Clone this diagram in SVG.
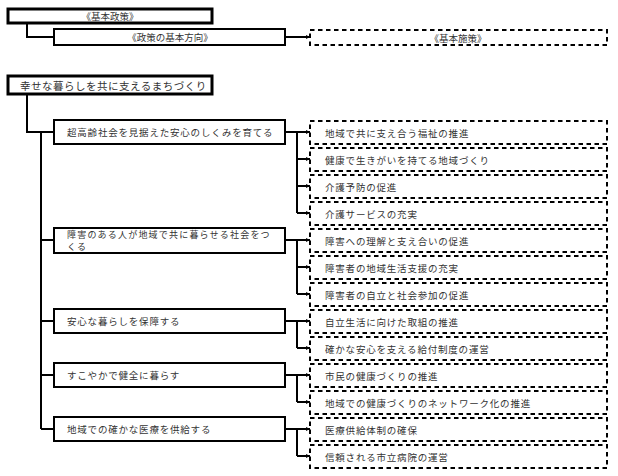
<svg xmlns="http://www.w3.org/2000/svg" width="618" height="476" viewBox="0 0 618 476">
<style>
text{font-family:"Noto Sans CJK JP","Noto Sans",sans-serif;fill:#333;font-size:9.5px;letter-spacing:0.8px;dominant-baseline:central}
.thick{fill:#fff;stroke:#000;stroke-width:3}
.box{fill:#fff;stroke:#000;stroke-width:2}
.dash{fill:#fff;stroke:#000;stroke-width:2;stroke-dasharray:4.5 3.5}
.con{fill:none;stroke:#000;stroke-width:2}
.c{text-anchor:middle;letter-spacing:0}
</style>
<defs>
<marker id="ar" markerUnits="userSpaceOnUse" markerWidth="5" markerHeight="5" refX="4" refY="2.5" orient="auto">
<path d="M0,0.5 L4,2.5 L0,4.5 z" fill="#000"/>
</marker>
</defs>
<g id="connectors" class="con">
<path d="M27,23 V37 H54"/>
<path d="M285,37 H310" marker-end="url(#ar)"/>
<path d="M27,94 V132 H54"/>
<path d="M41,132 V429 M41,240 H54 M41,321 H54 M41,375 H54 M41,429 H54"/>
<path d="M285,132 H297 V213"/>
<path d="M297,132 H310" marker-end="url(#ar)"/>
<path d="M297,159 H310" marker-end="url(#ar)"/>
<path d="M297,186 H310" marker-end="url(#ar)"/>
<path d="M297,213 H310" marker-end="url(#ar)"/>
<path d="M285,240 H297 V294"/>
<path d="M297,240 H310" marker-end="url(#ar)"/>
<path d="M297,267 H310" marker-end="url(#ar)"/>
<path d="M297,294 H310" marker-end="url(#ar)"/>
<path d="M285,321 H297 V348"/>
<path d="M297,321 H310" marker-end="url(#ar)"/>
<path d="M297,348 H310" marker-end="url(#ar)"/>
<path d="M285,375 H297 V402"/>
<path d="M297,375 H310" marker-end="url(#ar)"/>
<path d="M297,402 H310" marker-end="url(#ar)"/>
<path d="M285,429 H297 V456"/>
<path d="M297,429 H310" marker-end="url(#ar)"/>
<path d="M297,456 H310" marker-end="url(#ar)"/>
</g>
<g id="legend-policy"><rect class="thick" x="8" y="9" width="204" height="14"/><text class="c" x="110" y="16">《基本政策》</text></g>
<g id="legend-direction"><rect class="box" x="54" y="29" width="231" height="16"/><text class="c" x="170" y="37">《政策の基本方向》</text></g>
<g id="legend-measure"><rect class="dash" x="310" y="30" width="297" height="15"/><text class="c" x="458" y="37.5">《基本施策》</text></g>
<g id="policy"><rect class="thick" x="8" y="76" width="204" height="18"/><text x="20" y="85" style="font-size:10.5px;letter-spacing:0.5px">幸せな暮らしを共に支えるまちづくり</text></g>
<g id="dir1"><rect class="box" x="54" y="120" width="231" height="24"/><text x="67" y="132">超高齢社会を見据えた安心のしくみを育てる</text></g>
<g id="dir2"><rect class="box" x="54" y="228" width="231" height="25"/><text x="67" y="234.5" style="font-size:9px;letter-spacing:1.2px">障害のある人が地域で共に暮らせる社会をつ</text><text x="67" y="246.5" style="font-size:9px;letter-spacing:1.2px">くる</text></g>
<g id="dir3"><rect class="box" x="54" y="309" width="231" height="24"/><text x="67" y="321">安心な暮らしを保障する</text></g>
<g id="dir4"><rect class="box" x="54" y="363" width="231" height="24"/><text x="67" y="375">すこやかで健全に暮らす</text></g>
<g id="dir5"><rect class="box" x="54" y="417" width="231" height="24"/><text x="67" y="429">地域での確かな医療を供給する</text></g>
<g id="m1"><rect class="dash" x="310" y="121" width="297" height="23"/><text x="325" y="132.5">地域で共に支え合う福祉の推進</text></g>
<g id="m2"><rect class="dash" x="310" y="148" width="297" height="23"/><text x="325" y="159.5">健康で生きがいを持てる地域づくり</text></g>
<g id="m3"><rect class="dash" x="310" y="175" width="297" height="23"/><text x="325" y="186.5">介護予防の促進</text></g>
<g id="m4"><rect class="dash" x="310" y="202" width="297" height="23"/><text x="325" y="213.5">介護サービスの充実</text></g>
<g id="m5"><rect class="dash" x="310" y="229" width="297" height="23"/><text x="325" y="240.5">障害への理解と支え合いの促進</text></g>
<g id="m6"><rect class="dash" x="310" y="256" width="297" height="23"/><text x="325" y="267.5">障害者の地域生活支援の充実</text></g>
<g id="m7"><rect class="dash" x="310" y="283" width="297" height="23"/><text x="325" y="294.5">障害者の自立と社会参加の促進</text></g>
<g id="m8"><rect class="dash" x="310" y="310" width="297" height="23"/><text x="325" y="321.5">自立生活に向けた取組の推進</text></g>
<g id="m9"><rect class="dash" x="310" y="337" width="297" height="23"/><text x="325" y="348.5">確かな安心を支える給付制度の運営</text></g>
<g id="m10"><rect class="dash" x="310" y="364" width="297" height="23"/><text x="325" y="375.5">市民の健康づくりの推進</text></g>
<g id="m11"><rect class="dash" x="310" y="391" width="297" height="23"/><text x="325" y="402.5">地域での健康づくりのネットワーク化の推進</text></g>
<g id="m12"><rect class="dash" x="310" y="418" width="297" height="23"/><text x="325" y="429.5">医療供給体制の確保</text></g>
<g id="m13"><rect class="dash" x="310" y="445" width="297" height="23"/><text x="325" y="456.5">信頼される市立病院の運営</text></g>
</svg>
